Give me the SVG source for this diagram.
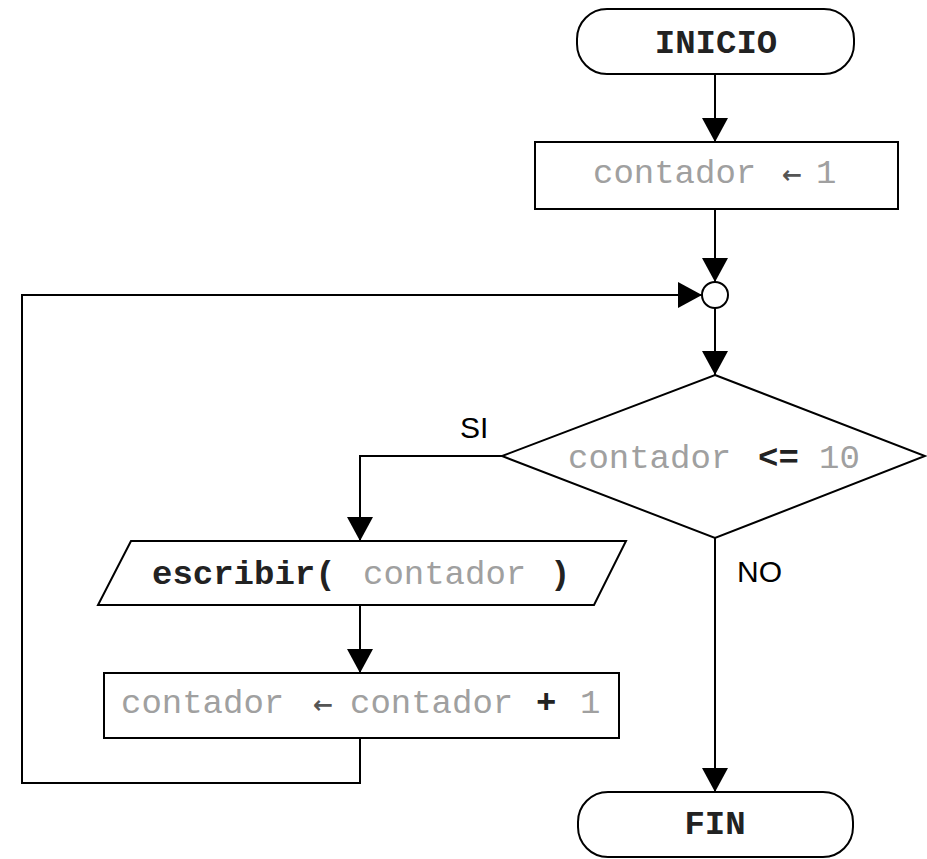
<svg xmlns="http://www.w3.org/2000/svg" width="927" height="859" viewBox="0 0 927 859">
<style>
.shape{fill:#fff;stroke:#000;stroke-width:2}
.conn{fill:none;stroke:#000;stroke-width:2}
.mono{font-family:"Liberation Mono","Courier New",monospace;font-size:34px}
.var{fill:#a0a0a0}
.kw{fill:#222;font-weight:bold}
.arr{font-family:"DejaVu Sans",sans-serif;font-size:24px;font-weight:bold;fill:#555}
.lbl{font-family:"Liberation Sans",Arial,sans-serif;font-size:30px;fill:#000}
</style>
<defs>
<marker id="ah" viewBox="0 0 24 26" refX="24" refY="13" markerWidth="24" markerHeight="26" markerUnits="userSpaceOnUse" orient="auto">
<path d="M0,0 L24,13 L0,26 z" fill="#000"/>
</marker>
</defs>
<g id="connectors">
<path class="conn" d="M715,74 V142" marker-end="url(#ah)"/>
<path class="conn" d="M715,209 V282" marker-end="url(#ah)"/>
<path class="conn" d="M715,308 V375" marker-end="url(#ah)"/>
<path class="conn" d="M502,456 H360 V541" marker-end="url(#ah)"/>
<path class="conn" d="M715,538 V792" marker-end="url(#ah)"/>
<path class="conn" d="M360,605 V673" marker-end="url(#ah)"/>
<path class="conn" d="M360,738 V783 H22 V295 H702" marker-end="url(#ah)"/>
<text class="lbl" x="460" y="438">SI</text>
<text class="lbl" x="737" y="582">NO</text>
</g>
<g id="inicio">
<rect class="shape" x="577" y="9" width="277" height="65" rx="30" ry="30"/>
<text class="mono kw" x="716" y="53" text-anchor="middle">INICIO</text>
</g>
<g id="init">
<rect class="shape" x="535" y="142" width="363" height="67"/>
<text class="mono var" x="593" y="183">contador</text>
<text class="arr" x="782" y="183">←</text>
<text class="mono var" x="816" y="183">1</text>
</g>
<g id="junction">
<circle class="shape" cx="715" cy="295" r="13"/>
</g>
<g id="cond">
<polygon class="shape" points="715,375 925,456 715,538 502,456"/>
<text class="mono var" x="568" y="468">contador</text>
<text class="mono kw" x="758" y="468">&lt;=</text>
<text class="mono var" x="819" y="468">10</text>
</g>
<g id="escribir">
<polygon class="shape" points="131,541 626,541 594,605 98,605"/>
<text class="mono kw" x="152" y="584">escribir(</text>
<text class="mono var" x="363" y="584">contador</text>
<text class="mono kw" x="550" y="584">)</text>
</g>
<g id="incr">
<rect class="shape" x="104" y="673" width="515" height="65"/>
<text class="mono var" x="121" y="713">contador</text>
<text class="arr" x="313" y="713">←</text>
<text class="mono var" x="350" y="713">contador</text>
<text class="mono kw" x="536" y="713">+</text>
<text class="mono var" x="580" y="713">1</text>
</g>
<g id="fin">
<rect class="shape" x="578" y="792" width="275" height="65" rx="30" ry="30"/>
<text class="mono kw" x="715" y="834" text-anchor="middle">FIN</text>
</g>
</svg>
